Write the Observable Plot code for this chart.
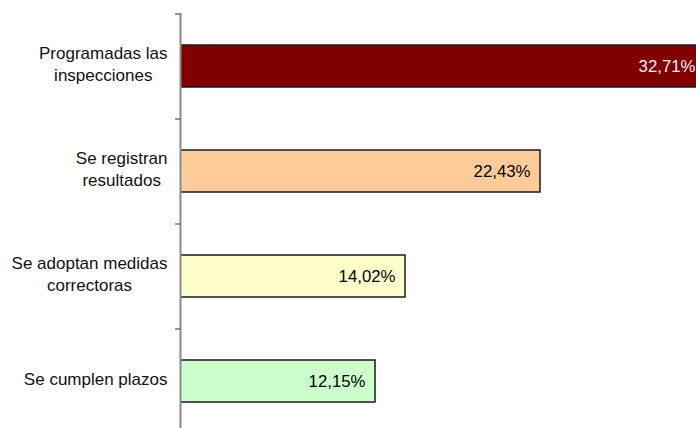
<!DOCTYPE html>
<html>
<head>
<meta charset="utf-8">
<script src="https://cdn.jsdelivr.net/npm/d3@7"></script>
<script src="https://cdn.jsdelivr.net/npm/@observablehq/plot@0.6"></script>
<style>
  html, body { margin: 0; padding: 0; background: #fff; overflow: hidden; }
  #chart svg { font-family: "Liberation Sans", Arial, sans-serif; }
</style>
</head>
<body>
<div id="chart"></div>
<script>
const categories = [
  "Programadas las\ninspecciones",
  "Se registran\nresultados",
  "Se adoptan medidas\ncorrectoras",
  "Se cumplen plazos"
];
const values = [32.71, 22.43, 14.02, 12.15];
const colors = ["#800000", "#FFCC99", "#FFFFCC", "#CCFFCC"];
const labelColors = ["#f2f2f2", "#000000", "#000000", "#000000"];
const xMax = 32.15;

const data = categories.map((c, i) => ({cat: c, value: values[i], fill: colors[i], lab: labelColors[i]}));
const fmt = v => v.toFixed(2).replace(".", ",") + "%";

const W = 696, H = 433, mTop = 13, mLeft = 180;
const step = (H - mTop) / categories.length;

const plot = Plot.plot({
  width: W,
  height: H,
  marginLeft: mLeft,
  marginRight: 0,
  marginTop: mTop,
  marginBottom: 0,
  style: {fontFamily: "'Liberation Sans', Arial, sans-serif", fontSize: "17px", background: "#fff"},
  x: {domain: [0, xMax], axis: null},
  y: {domain: categories, paddingInner: 0.6, paddingOuter: 0.3, axis: null, label: null},
  marks: [
    Plot.barX(data, {y: "cat", x: "value", fill: "fill", stroke: "#1a1a1a", strokeWidth: 1.5, clip: true}),
    Plot.ruleX([0], {stroke: "#8a8a8a", strokeWidth: 2}),
    Plot.axisY({tickSize: 5, tickFormat: () => "", dy: -step / 2, stroke: "#333"}),
    Plot.text(data, {y: "cat", x: "value", text: d => fmt(d.value), fill: "lab", textAnchor: "end", dx: -10, fontSize: 16.8}),
    Plot.text(data, {y: "cat", text: "cat", frameAnchor: "left", textAnchor: "middle", lineHeight: 1.3, dy: -3.5, fill: "#111", fontSize: 17})
  ]
});

document.getElementById("chart").appendChild(plot);

// center each wrapped category label within its own block, block right-aligned near the axis
const gap = 13;
plot.querySelectorAll("text").forEach(t => {
  const spans = Array.from(t.querySelectorAll("tspan"));
  const s = spans.length ? spans.map(x => x.textContent).join("\n") : t.textContent;
  if (!categories.includes(s)) return;
  const bb = t.getBBox();
  const shift = -gap - bb.width / 2;
  const tr = t.getAttribute("transform") || "";
  t.setAttribute("transform", (tr + ` translate(${shift},0)`).trim());
});
</script>
</body>
</html>
